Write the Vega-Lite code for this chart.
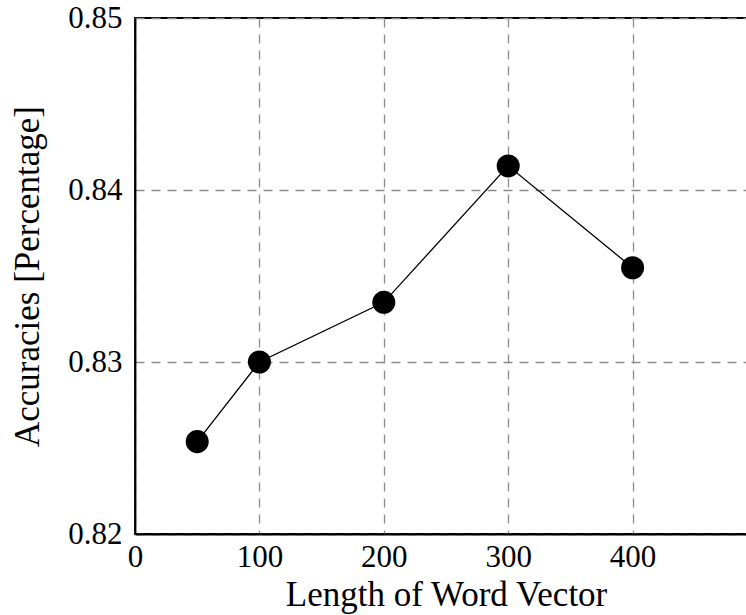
{
  "$schema": "https://vega.github.io/schema/vega-lite/v6.json",
  "autosize": {"type": "none"},
  "padding": {"left": 135, "top": 18, "right": 0, "bottom": 81},
  "width": 622,
  "height": 516,
  "background": "white",
  "config": {
    "view": {"stroke": "black", "strokeWidth": 1.8},
    "font": "Liberation Serif"
  },
  "data": {
    "values": [
      {"length": 50, "accuracy": 0.82537},
      {"length": 100, "accuracy": 0.8300},
      {"length": 200, "accuracy": 0.83347},
      {"length": 300, "accuracy": 0.8414},
      {"length": 400, "accuracy": 0.83548}
    ]
  },
  "encoding": {
    "x": {
      "field": "length",
      "type": "quantitative",
      "scale": {"domain": [0, 500], "nice": false, "zero": false},
      "axis": {
        "title": "Length of Word Vector",
        "values": [0, 100, 200, 300, 400],
        "ticks": false,
        "labelPadding": 32,
        "labelBaseline": "alphabetic",
        "labelFont": "Liberation Serif",
        "labelFontSize": 31,
        "labelColor": "black",
        "labelFlush": false,
        "domainColor": "black",
        "domainWidth": 1.8,
        "grid": true,
        "gridColor": "#8c8c8c",
        "gridDash": [9, 7],
        "gridWidth": 1.3,
        "titleFont": "Liberation Serif",
        "titleFontSize": 35,
        "titleFontWeight": "normal",
        "titleColor": "black",
        "titleBaseline": "alphabetic",
        "titleX": 311,
        "titleY": 71
      }
    },
    "y": {
      "field": "accuracy",
      "type": "quantitative",
      "scale": {"domain": [0.82, 0.85], "nice": false, "zero": false},
      "axis": {
        "title": "Accuracies [Percentage]",
        "values": [0.82, 0.83, 0.84, 0.85],
        "format": ".2f",
        "ticks": false,
        "labelPadding": 13,
        "labelFont": "Liberation Serif",
        "labelFontSize": 31,
        "labelColor": "black",
        "labelFlush": false,
        "domainColor": "black",
        "domainWidth": 1.8,
        "grid": true,
        "gridColor": "#8c8c8c",
        "gridDash": [9, 7],
        "gridWidth": 1.3,
        "titleFont": "Liberation Serif",
        "titleFontSize": 35,
        "titleFontWeight": "normal",
        "titleColor": "black",
        "titleAngle": -90,
        "titleBaseline": "alphabetic",
        "titleAlign": "center",
        "titleX": -97,
        "titleY": 258
      }
    }
  },
  "layer": [
    {"mark": {"type": "line", "color": "black", "strokeWidth": 1.3}},
    {"mark": {"type": "point", "filled": true, "color": "black", "opacity": 1, "size": 530, "shape": "circle"}}
  ]
}
